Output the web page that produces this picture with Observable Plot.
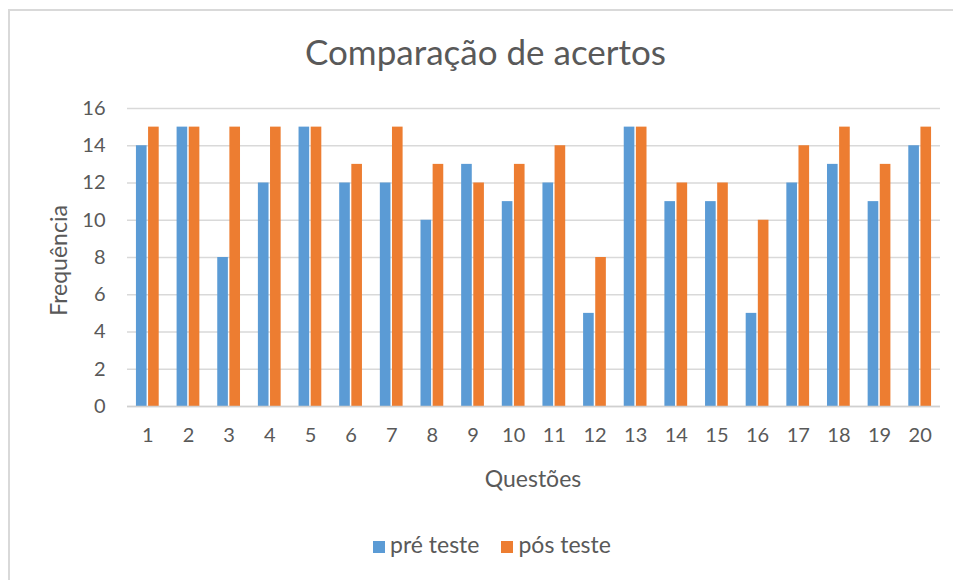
<!DOCTYPE html>
<html>
<head>
<meta charset="utf-8">
<script src="https://cdn.jsdelivr.net/npm/d3@7"></script>
<script src="https://cdn.jsdelivr.net/npm/@observablehq/plot@0.6"></script>
<style>
  html, body { margin: 0; padding: 0; background: #fff; }
  body { width: 953px; height: 580px; position: relative; overflow: hidden; font-family: Lato, "Open Sans", sans-serif; color: #595959; }
  #frame { position: absolute; left: 8px; top: 9px; width: 960px; height: 600px; border-left: 2px solid #d9d9d9; border-top: 2px solid #d9d9d9; }
  #title { position: absolute; left: 9px; width: 953px; top: 34px; text-align: center; font-size: 35px; line-height: 34px; }
  #chart { position: absolute; left: 0; top: 0; }
  #xlabel { position: absolute; left: 383px; width: 300px; top: 467px; text-align: center; font-size: 23px; line-height: 23px; }
  #ylabel { position: absolute; left: -42px; width: 200px; top: 249px; text-align: center; font-size: 23px; line-height: 23px; transform: rotate(-90deg); transform-origin: 100px 11.5px; }
  #legend { position: absolute; top: 533px; left: 373px; display: flex; gap: 22px; font-size: 23px; line-height: 22px; }
  #legend span.item { display: flex; align-items: center; }
  #legend span.sw { display: inline-block; width: 12px; height: 12px; margin-right: 5px; margin-top: 6px; }
</style>
</head>
<body>
<div id="frame"></div>
<div id="chart"></div>
<div id="title">Comparação de acertos</div>
<div id="xlabel">Questões</div>
<div id="ylabel">Frequência</div>
<div id="legend"></div>
<script>
const questions = ["1","2","3","4","5","6","7","8","9","10","11","12","13","14","15","16","17","18","19","20"];
const seriesNames = ["pré teste", "pós teste"];
const preValues  = [14,15,8,12,15,12,12,10,13,11,12,5,15,11,11,5,12,13,11,14];
const postValues = [15,15,15,15,15,13,15,13,12,13,14,8,15,12,12,10,14,15,13,15];
const colors = ["#5B9BD5", "#ED7D31"];
const yTicks = [0,2,4,6,8,10,12,14,16];

const preData = questions.map((q, i) => ({q, v: preValues[i]}));
const postData = questions.map((q, i) => ({q, v: postValues[i]}));

const W = 953, mL = 127, mR = 13;
const step = (W - mL - mR) / questions.length;
const bandW = step * 0.56;
const half = bandW / 2 + 0.75;

const chart = Plot.plot({
  width: W,
  height: 580,
  marginLeft: mL,
  marginRight: mR,
  marginTop: 108,
  marginBottom: 174,
  style: {fontFamily: "Lato, 'Open Sans', sans-serif", fontSize: "20px", color: "#595959", background: "transparent"},
  x: {domain: questions, paddingInner: 0.44, paddingOuter: 0.22, round: false, label: null, tickSize: 0, tickPadding: 21},
  y: {domain: [0, 16], ticks: yTicks, label: null, tickSize: 0, tickPadding: 22},
  marks: [
    Plot.ruleY(yTicks, {stroke: "#d9d9d9", strokeWidth: 1.5}),
    Plot.barY(preData, {x: "q", y: "v", fill: colors[0], insetRight: half}),
    Plot.barY(postData, {x: "q", y: "v", fill: colors[1], insetLeft: half}),
    Plot.ruleY([0], {stroke: "#d0d0d0", strokeWidth: 1.5})
  ]
});
document.getElementById("chart").appendChild(chart);

const legend = document.getElementById("legend");
seriesNames.forEach((name, i) => {
  const item = document.createElement("span");
  item.className = "item";
  const sw = document.createElement("span");
  sw.className = "sw";
  sw.style.background = colors[i];
  item.appendChild(sw);
  item.appendChild(document.createTextNode(name));
  legend.appendChild(item);
});
</script>
</body>
</html>
